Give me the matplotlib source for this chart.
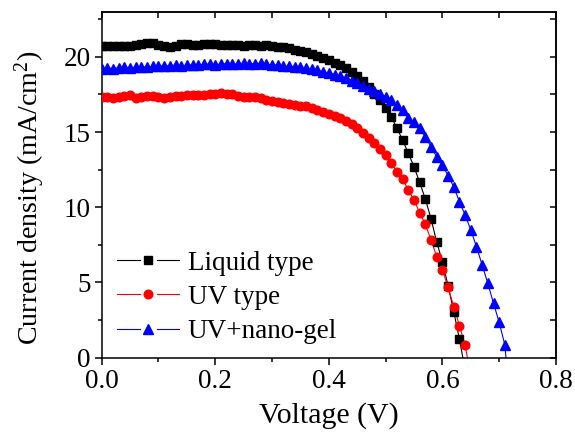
#!/usr/bin/env python3

import matplotlib
matplotlib.use("Agg")
import matplotlib.pyplot as plt
from matplotlib.lines import Line2D
from matplotlib.legend_handler import HandlerBase
from matplotlib.ticker import MultipleLocator

# Voltage grid of the measurement (V)
voltage = [0.00, 0.01, 0.02, 0.03, 0.04, 0.05, 0.06, 0.07, 0.08, 0.09, 0.10, 0.11,
           0.12, 0.13, 0.14, 0.15, 0.16, 0.17, 0.18, 0.19, 0.20, 0.21, 0.22, 0.23,
           0.24, 0.25, 0.26, 0.27, 0.28, 0.29, 0.30, 0.31, 0.32, 0.33, 0.34, 0.35,
           0.36, 0.37, 0.38, 0.39, 0.40, 0.41, 0.42, 0.43, 0.44, 0.45, 0.46, 0.47,
           0.48, 0.49, 0.50, 0.51, 0.52, 0.53, 0.54, 0.55, 0.56, 0.57, 0.58, 0.59,
           0.60, 0.61, 0.62, 0.63, 0.64, 0.65, 0.66, 0.67, 0.68, 0.69, 0.70, 0.71]

# Current density (mA/cm2)
liquid_j = [20.70, 20.72, 20.75, 20.72, 20.70, 20.74, 20.80, 20.85, 20.90, 20.92, 20.80, 20.70,
            20.68, 20.75, 20.82, 20.85, 20.80, 20.78, 20.82, 20.86, 20.85, 20.80, 20.76, 20.80,
            20.78, 20.75, 20.78, 20.76, 20.74, 20.76, 20.72, 20.68, 20.64, 20.56, 20.48, 20.40,
            20.30, 20.18, 20.05, 19.92, 19.78, 19.62, 19.45, 19.25, 19.00, 18.72, 18.40, 18.00,
            17.55, 17.12, 16.60, 16.00, 15.25, 14.47, 13.58, 12.70, 11.65, 10.54, 9.22, 7.69,
            6.38, 4.78, 3.06, 1.22]
uv_j = [17.34, 17.30, 17.28, 17.32, 17.40, 17.45, 17.26, 17.30, 17.38, 17.42, 17.30, 17.24,
        17.32, 17.38, 17.42, 17.44, 17.45, 17.46, 17.48, 17.52, 17.56, 17.58, 17.55, 17.50,
        17.42, 17.36, 17.36, 17.30, 17.25, 17.15, 17.08, 17.00, 16.95, 16.88, 16.80, 16.75,
        16.72, 16.60, 16.45, 16.32, 16.18, 16.04, 15.95, 15.72, 15.52, 15.25, 14.95, 14.58,
        14.28, 13.85, 13.47, 12.96, 12.36, 11.90, 11.14, 10.48, 9.63, 8.86, 7.82, 6.71,
        5.83, 4.68, 3.39, 2.13, 0.82]
gel_j = [19.20, 19.25, 19.22, 19.28, 19.30, 19.25, 19.32, 19.35, 19.30, 19.36, 19.40, 19.38,
         19.42, 19.45, 19.40, 19.44, 19.48, 19.45, 19.50, 19.52, 19.48, 19.52, 19.55, 19.50,
         19.55, 19.58, 19.52, 19.55, 19.56, 19.50, 19.48, 19.45, 19.40, 19.36, 19.34, 19.30,
         19.24, 19.18, 19.10, 19.00, 18.92, 18.82, 18.70, 18.58, 18.42, 18.25, 18.05, 17.85,
         17.70, 17.55, 17.34, 17.12, 16.79, 16.46, 15.91, 15.68, 15.24, 14.68, 14.02, 13.36,
         12.80, 12.10, 11.35, 10.37, 9.48, 8.49, 7.38, 6.16, 4.94, 3.61, 2.35, 0.84]

# open circuit voltages where the lines reach zero
liquid_voc = 0.636
uv_voc = 0.644
gel_voc = 0.712

labels = ["Liquid type", "UV type", "UV+nano-gel"]


class GapHandler(HandlerBase):
    # Origin style legend: line - marker - line, with gaps round the marker
    def create_artists(self, legend, orig_handle, xdescent, ydescent,
                       width, height, fontsize, trans):
        y = height / 2 - ydescent
        x0 = -xdescent
        c = orig_handle.get_color()
        lw = orig_handle.get_linewidth()
        l1 = Line2D([x0, x0 + width * 0.36], [y, y], color=c, lw=lw)
        l2 = Line2D([x0 + width * 0.64, x0 + width], [y, y], color=c, lw=lw)
        m = Line2D([x0 + width / 2], [y], linestyle="None",
                   marker=orig_handle.get_marker(),
                   markersize=orig_handle.get_markersize(),
                   color=c)
        for a in (l1, l2, m):
            a.set_transform(trans)
        return [l1, l2, m]


def main():
    plt.rcParams['font.family'] = ['Liberation Serif', 'DejaVu Serif']
    plt.rcParams['mathtext.fontset'] = 'custom'
    plt.rcParams['mathtext.rm'] = 'Liberation Serif'
    plt.rcParams['mathtext.it'] = 'Liberation Serif:italic'

    fig = plt.figure(figsize=(5.75, 4.36), dpi=100, facecolor='white')
    ax = fig.add_axes([0.1769, 0.1796, 0.7900, 0.7936])

    series = [
        (liquid_j, liquid_voc, 'black', 's', 5.3),
        (uv_j, uv_voc, 'red', 'o', 6.2),
        (gel_j, gel_voc, 'blue', '^', 6.6),
    ]
    handles = []
    for (j, voc, color, marker, ms), lab in zip(series, labels):
        v = voltage[:len(j)]
        ax.plot(v + [voc], j + [0.0], color=color, lw=0.8, zorder=2)
        ax.plot(v, j, linestyle='None', marker=marker, markersize=ms,
                color=color, zorder=3)
        handles.append(Line2D([], [], color=color, lw=0.8, marker=marker,
                              markersize=ms, label=lab))

    ax.set_xlim(0, 0.8)
    ax.set_ylim(0, 23)
    ax.xaxis.set_major_locator(MultipleLocator(0.2))
    ax.xaxis.set_minor_locator(MultipleLocator(0.1))
    ax.yaxis.set_major_locator(MultipleLocator(5))
    ax.yaxis.set_minor_locator(MultipleLocator(2.5))
    ax.xaxis.set_major_formatter(plt.FuncFormatter(lambda x, p: f"{x:.1f}"))

    for s in ax.spines.values():
        s.set_linewidth(1.1)
    ax.tick_params(which='major', direction='out', length=5, width=1.1,
                   labelsize=19.5, pad=3)
    ax.tick_params(which='minor', direction='out', length=3, width=1.1)

    # mirrored ticks on top and right, pointing inside
    sec_x = ax.secondary_xaxis('top')
    sec_y = ax.secondary_yaxis('right')
    for sec in (sec_x, sec_y):
        sec.tick_params(which='major', direction='in', length=4, width=1.1)
        sec.tick_params(which='minor', direction='in', length=4, width=1.1)
        sec.spines[:].set_linewidth(1.1)
    sec_x.xaxis.set_major_locator(MultipleLocator(0.2))
    sec_x.xaxis.set_minor_locator(MultipleLocator(0.1))
    sec_y.yaxis.set_major_locator(MultipleLocator(5))
    sec_y.yaxis.set_minor_locator(MultipleLocator(2.5))
    sec_x.set_xticklabels([])
    sec_y.set_yticklabels([])

    ax.set_xlabel('Voltage (V)', fontsize=21.5, labelpad=6)
    ax.set_ylabel('Current density (mA/cm$^{2}$)', fontsize=20.2)
    ax.yaxis.set_label_coords(-0.12, 0.462)

    ax.legend(handles=handles, handler_map={Line2D: GapHandler()},
              loc='lower left', bbox_to_anchor=(0.01, 0.008),
              frameon=False, fontsize=19.5, handlelength=2.3,
              handletextpad=0.3, labelspacing=0.34, borderaxespad=0.0)

    fig.savefig("out.png", dpi=100)


if __name__ == "__main__":
    main()
